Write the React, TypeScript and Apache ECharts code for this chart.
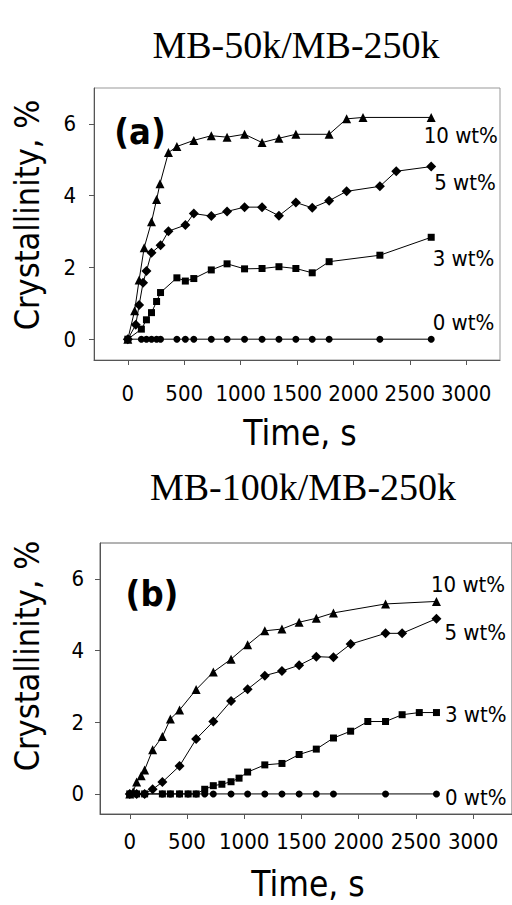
import React, { useEffect, useRef } from "react";
import * as echarts from "echarts";

// ---- Data (time in s, crystallinity in %) ----
// Panel (a) MB-50k/MB-250k
const A_T10 = [0, 60, 100, 145, 210, 255, 285, 360, 435, 585, 740, 880, 1035, 1190, 1340, 1490, 1785, 1940, 2085, 2690];
const A_V10 = [0, 0.79, 1.65, 2.55, 3.27, 3.89, 4.33, 5.2, 5.37, 5.54, 5.67, 5.63, 5.71, 5.48, 5.6, 5.71, 5.71, 6.14, 6.18, 6.18];
const A_T5 = [0, 70, 100, 135, 165, 210, 290, 360, 510, 585, 740, 880, 1035, 1190, 1340, 1490, 1635, 1785, 1940, 2235, 2380, 2690];
const A_V5 = [0, 0.4, 0.95, 1.57, 1.9, 2.41, 2.62, 3.01, 3.18, 3.5, 3.43, 3.56, 3.68, 3.68, 3.44, 3.81, 3.66, 3.86, 4.12, 4.26, 4.68, 4.81];
const A_T3 = [0, 120, 165, 210, 255, 290, 435, 510, 585, 740, 880, 1035, 1190, 1340, 1490, 1635, 1785, 2235, 2690];
const A_V3 = [0, 0.28, 0.54, 0.74, 1.05, 1.3, 1.71, 1.62, 1.69, 1.93, 2.1, 1.96, 1.97, 2.02, 1.97, 1.85, 2.16, 2.34, 2.84];
const A_T0 = [0, 120, 165, 210, 255, 290, 435, 510, 585, 740, 880, 1035, 1190, 1340, 1490, 1635, 1785, 2235, 2690];
const A_V0 = [0, 0, 0, 0, 0, 0, 0, 0, 0, 0, 0, 0, 0, 0, 0, 0, 0, 0, 0];

// Panel (b) MB-100k/MB-250k
const B_T10 = [0, 30, 60, 100, 130, 200, 285, 355, 435, 580, 730, 885, 1030, 1180, 1330, 1480, 1630, 1780, 2235, 2680];
const B_V10 = [0, 0.06, 0.33, 0.51, 0.67, 1.23, 1.6, 2.09, 2.34, 2.91, 3.4, 3.76, 4.16, 4.55, 4.6, 4.79, 4.9, 5.05, 5.3, 5.37];
const B_T5 = [0, 60, 130, 200, 285, 435, 580, 730, 885, 1030, 1180, 1330, 1480, 1630, 1780, 1930, 2235, 2380, 2680];
const B_V5 = [0, 0, 0, 0.13, 0.33, 0.78, 1.53, 2.02, 2.59, 2.92, 3.3, 3.43, 3.59, 3.83, 3.81, 4.18, 4.48, 4.48, 4.89];
const B_T3 = [0, 60, 130, 285, 355, 435, 510, 580, 655, 730, 805, 885, 955, 1030, 1180, 1330, 1480, 1630, 1780, 1930, 2080, 2235, 2380, 2530, 2680];
const B_V3 = [0, 0, 0, 0, 0, 0, 0, 0, 0.13, 0.23, 0.27, 0.34, 0.44, 0.61, 0.81, 0.85, 1.1, 1.25, 1.56, 1.75, 2.02, 2.02, 2.21, 2.27, 2.27];
const B_T0 = [0, 60, 130, 285, 355, 435, 510, 580, 655, 730, 885, 1030, 1180, 1330, 1480, 1630, 1780, 2235, 2680];
const B_V0 = [0, 0, 0, 0, 0, 0, 0, 0, 0, 0, 0, 0, 0, 0, 0, 0, 0, 0, 0];

const SERIES_NAMES = ["10 wt%", "5 wt%", "3 wt%", "0 wt%"];
const X_TICKS = [0, 500, 1000, 1500, 2000, 2500, 3000];
const Y_TICKS = [0, 2, 4, 6];
const TITLES = ["MB-50k/MB-250k", "MB-100k/MB-250k"];
const PANEL_TAGS = ["(a)", "(b)"];
const X_NAME = "Time, s";
const Y_NAME = "Crystallinity, %";

const SANS = '"DejaVu Sans Condensed", "DejaVu Sans", sans-serif';
const SERIF = '"Liberation Serif", "DejaVu Serif", serif';

const SYMBOLS = ["triangle", "diamond", "rect", "circle"];
const SYMBOL_SIZES = [9, 10, 7, 7];

function zip(t: number[], v: number[]) {
  return t.map((x, i) => [x, v[i]]);
}

function buildSeries(
  idx: number,
  sets: [number[], number[]][],
  labelOffsets: [number, number][]
) {
  return sets.map(([t, v], k) => {
    const pts: any[] = zip(t, v);
    const last = pts.length - 1;
    pts[last] = {
      value: pts[last],
      label: {
        show: true,
        position: "right",
        distance: 5,
        offset: labelOffsets[k],
        formatter: SERIES_NAMES[k],
        fontFamily: SANS,
        fontSize: 22,
        color: "#000",
      },
    };
    return {
      type: "line",
      name: SERIES_NAMES[k] + idx,
      xAxisIndex: idx,
      yAxisIndex: idx,
      data: pts,
      symbol: SYMBOLS[k],
      symbolSize: SYMBOL_SIZES[k],
      showAllSymbol: true,
      lineStyle: { color: "#000", width: 1 },
      itemStyle: { color: "#000" },
      z: 10 - k,
    };
  });
}

function xAxis(idx: number, min: number, max: number, margin: number) {
  return {
    type: "value",
    gridIndex: idx,
    min,
    max,
    axisLine: { show: true, onZero: false, lineStyle: { color: "#555", width: 1 } },
    axisTick: {
      show: true,
      customValues: X_TICKS,
      inside: false,
      length: 5,
      lineStyle: { color: "#555" },
    },
    axisLabel: {
      customValues: X_TICKS,
      formatter: (v: number) => String(v),
      margin,
      fontFamily: SANS,
      fontSize: 22,
      color: "#000",
    },
    splitLine: { show: false },
  };
}

function yAxis(idx: number, min: number, max: number, margin: number) {
  return {
    type: "value",
    gridIndex: idx,
    min,
    max,
    axisLine: { show: true, onZero: false, lineStyle: { color: "#555", width: 1 } },
    axisTick: {
      show: true,
      customValues: Y_TICKS,
      inside: false,
      length: 5,
      lineStyle: { color: "#555" },
    },
    axisLabel: {
      customValues: Y_TICKS,
      formatter: (v: number) => String(v),
      margin,
      fontFamily: SANS,
      fontSize: 22,
      color: "#000",
    },
    splitLine: { show: false },
  };
}

export default function App() {
  const ref = useRef<HTMLDivElement>(null);
  useEffect(() => {
    document.body.style.margin = "0";
    if (!ref.current) return;
    const chart = echarts.init(ref.current, undefined, { renderer: "svg" });
    const option: any = {
      animation: false,
      backgroundColor: "#fff",
      grid: [
        { left: 94, top: 88, width: 406, height: 272, show: true, borderColor: "#999", borderWidth: 1 },
        { left: 100, top: 543, width: 416, height: 271, show: true, borderColor: "#666", borderWidth: 1 },
      ],
      xAxis: [xAxis(0, -300, 3300, 22), xAxis(1, -260, 3340, 16)],
      yAxis: [yAxis(0, -0.58, 7, 18), yAxis(1, -0.56, 7, 16)],
      series: [
        ...buildSeries(
          0,
          [
            [A_T10, A_V10],
            [A_T5, A_V5],
            [A_T3, A_V3],
            [A_T0, A_V0],
          ],
          [
            [-17, 18],
            [-7, 16],
            [-7, 21],
            [-7, -17],
          ]
        ),
        ...buildSeries(
          1,
          [
            [B_T10, B_V10],
            [B_T5, B_V5],
            [B_T3, B_V3],
            [B_T0, B_V0],
          ],
          [
            [-15, -17],
            [-2, 14],
            [0, 2],
            [0, 4],
          ]
        ),
      ],
      graphic: [
        {
          type: "text",
          x: 296,
          y: 45,
          style: { text: TITLES[0], font: `38px ${SERIF}`, fill: "#000", textAlign: "center", textVerticalAlign: "middle" },
        },
        {
          type: "text",
          x: 303,
          y: 487,
          style: { text: TITLES[1], font: `38px ${SERIF}`, fill: "#000", textAlign: "center", textVerticalAlign: "middle" },
        },
        {
          type: "text",
          x: 140,
          y: 131,
          style: { text: PANEL_TAGS[0], font: `bold 36px ${SANS}`, fill: "#000", textAlign: "center", textVerticalAlign: "middle" },
        },
        {
          type: "text",
          x: 152,
          y: 593,
          style: { text: PANEL_TAGS[1], font: `bold 36px ${SANS}`, fill: "#000", textAlign: "center", textVerticalAlign: "middle" },
        },
        {
          type: "text",
          x: 300,
          y: 433,
          style: { text: X_NAME, font: `35px ${SANS}`, fill: "#000", textAlign: "center", textVerticalAlign: "middle" },
        },
        {
          type: "text",
          x: 308,
          y: 884,
          style: { text: X_NAME, font: `35px ${SANS}`, fill: "#000", textAlign: "center", textVerticalAlign: "middle" },
        },
        {
          type: "text",
          x: 27,
          y: 215,
          rotation: Math.PI / 2,
          style: { text: Y_NAME, font: `34px ${SANS}`, fill: "#000", textAlign: "center", textVerticalAlign: "middle" },
        },
        {
          type: "text",
          x: 27,
          y: 656,
          rotation: Math.PI / 2,
          style: { text: Y_NAME, font: `34px ${SANS}`, fill: "#000", textAlign: "center", textVerticalAlign: "middle" },
        },
      ],
    };
    chart.setOption(option);
    return () => chart.dispose();
  }, []);
  return <div ref={ref} style={{ width: 512, height: 905 }} />;
}
